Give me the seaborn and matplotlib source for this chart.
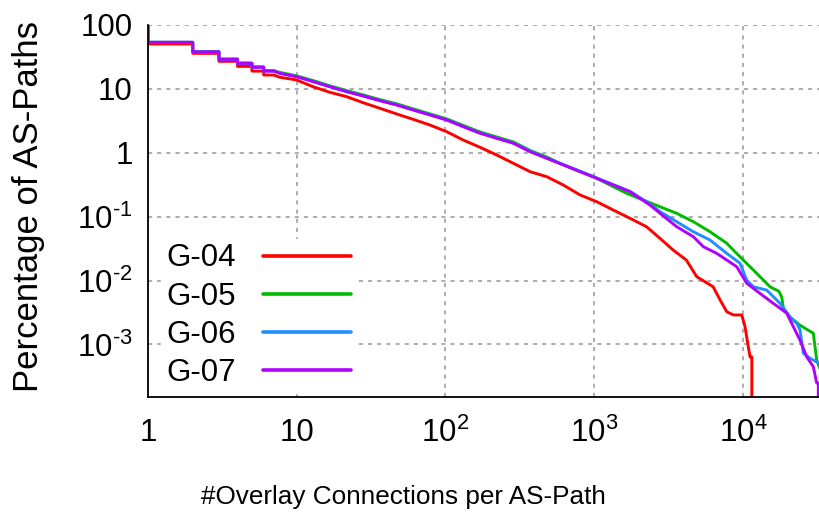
import numpy as np
import pandas as pd
import matplotlib
matplotlib.use("Agg")
import matplotlib.pyplot as plt
import seaborn as sns

# ---- data (CCDF, percent of AS-paths) ----
# the first few entries are explicit stair corners at integer connection counts
g04_x = [1, 1, 2, 2, 3, 3, 4, 4, 5, 5, 6, 6, 7, 7.72, 10.0, 12.9, 16.7, 21.7, 28.0, 36.3, 47.0,
         60.7, 78.7, 102, 132, 171, 221, 286, 371, 480, 621, 804, 1040, 1346, 1743, 2250,
         2773, 3400, 4170, 4900, 6320, 7030, 7800, 8650, 9840, 10350, 10890, 11190, 11500, 11500]
g04_y = [100, 50.5, 50.5, 36, 36, 27, 27, 22.5, 22.5, 19, 19, 16.5, 16.5, 15.2, 13.8, 10.8,
         8.85, 7.55, 6.08, 4.97, 4.05, 3.34, 2.72, 2.14, 1.58, 1.22, 0.925, 0.686, 0.506,
         0.423, 0.313, 0.219, 0.172, 0.127, 0.0944, 0.0697, 0.0459, 0.0301, 0.021, 0.0115,
         0.008, 0.005, 0.00326, 0.0029, 0.0029, 0.0019, 0.00092, 0.00064, 0.00064, 1e-7]

g05_x = [1, 1, 2, 2, 3, 3, 4, 4, 5, 5, 6, 6, 7, 7.72, 10.0, 12.9, 16.7, 21.7, 28.0, 36.3, 47.0,
         60.7, 78.7, 102, 132, 171, 221, 286, 371, 480, 590, 988, 1656, 2773, 3591, 4645,
         6017, 7798, 8630, 10070, 12390, 15240, 17500, 18280, 18750, 20750, 24250, 29800,
         31400, 33000]
g05_y = [100, 53.6, 53.6, 38.5, 38.5, 29.5, 29.5, 25.5, 25.5, 22.2, 22.2, 19.4, 19.4, 18.1,
         16.0, 13.5, 11.2, 9.4, 8.05, 6.8, 5.85, 4.87, 4.07, 3.4, 2.68, 2.12, 1.77, 1.48,
         1.09, 0.86, 0.685, 0.423, 0.232, 0.143, 0.113, 0.0836, 0.0582, 0.0384, 0.0301,
         0.021, 0.013, 0.008, 0.0068, 0.0055, 0.0037, 0.0027, 0.002, 0.0015, 0.00057, 0.00042]

g06_x = [1, 1, 2, 2, 3, 3, 4, 4, 5, 5, 6, 6, 7, 7.72, 10.0, 12.9, 16.7, 21.7, 28.0, 36.3, 47.0,
         60.7, 78.7, 102, 132, 171, 221, 286, 371, 480, 621, 804, 1040, 1346, 1743, 2377,
         2773, 3591, 4645, 6017, 7798, 9570, 10620, 11780, 14490, 17800, 20750, 23010, 24250,
         25530, 28300, 33000]
g06_y = [100, 53.6, 53.6, 38, 38, 29, 29, 25.1, 25.1, 21.8, 21.8, 19.0, 19.0, 17.6, 15.6,
         13.1, 10.9, 9.1, 7.8, 6.6, 5.65, 4.72, 3.95, 3.29, 2.59, 2.05, 1.71, 1.43, 1.06,
         0.83, 0.655, 0.515, 0.405, 0.318, 0.25, 0.158, 0.12, 0.0836, 0.0582, 0.0432, 0.0267,
         0.0187, 0.0102, 0.008, 0.0071, 0.0044, 0.0027, 0.00215, 0.0017, 0.00073, 0.00061,
         0.0005]

g07_x = [1, 1, 2, 2, 3, 3, 4, 4, 5, 5, 6, 6, 7, 7.72, 10.0, 12.9, 16.7, 21.7, 28.0, 36.3, 47.0,
         60.7, 78.7, 102, 132, 171, 221, 286, 371, 480, 621, 804, 1040, 1346, 1743, 2377,
         2773, 3591, 4645, 5420, 6668, 7798, 9100, 10620, 13050, 16040, 19720, 21870, 24250,
         26900, 29800, 31400, 32200, 32200]
g07_y = [100, 53.6, 53.6, 38, 38, 29, 29, 25.1, 25.1, 21.8, 21.8, 19.0, 19.0, 17.5, 15.5,
         13.0, 10.8, 9.04, 7.74, 6.53, 5.6, 4.67, 3.91, 3.26, 2.56, 2.02, 1.69, 1.41, 1.04,
         0.82, 0.644, 0.506, 0.399, 0.313, 0.246, 0.152, 0.113, 0.0698, 0.0487, 0.034,
         0.0267, 0.021, 0.0165, 0.0091, 0.0063, 0.0044, 0.0031, 0.0019, 0.00117, 0.00064,
         0.00045, 0.00025, 0.00025, 1e-7]

groups = ["G-04", "G-05", "G-06", "G-07"]
colors = ["#ff0000", "#00bb00", "#1e90ff", "#b000ff"]

x_ticks = [1, 10, 100, 1000, 10000]
x_tick_labels = ["1", "10", r"$10^{2}$", r"$10^{3}$", r"$10^{4}$"]
y_ticks = [100, 10, 1, 0.1, 0.01, 0.001]
y_tick_labels = ["100", "10", "1", r"$10^{\text{-}1}$", r"$10^{\text{-}2}$", r"$10^{\text{-}3}$"]

frames = []
for name, xs, ys in zip(groups, [g04_x, g05_x, g06_x, g07_x], [g04_y, g05_y, g06_y, g07_y]):
    frames.append(pd.DataFrame({"x": xs, "y": ys, "group": name}))
df = pd.concat(frames, ignore_index=True)

sns.set_theme(style="white")
plt.rcParams["font.family"] = ["Liberation Sans", "DejaVu Sans"]
plt.rcParams["mathtext.fontset"] = "custom"
plt.rcParams["mathtext.rm"] = "Liberation Sans"
plt.rcParams["mathtext.default"] = "regular"
plt.rcParams["text.color"] = "black"

fig = plt.figure(figsize=(8.19, 5.12), dpi=100)
W, H = 819, 512
left, right, top, bottom = 148, 819, 25, 397
ax = fig.add_axes([left / W, 1 - bottom / H, (right - left) / W, (bottom - top) / H])

sns.lineplot(data=df, x="x", y="y", hue="group", palette=colors, hue_order=groups,
             estimator=None, sort=False, linewidth=2.1, ax=ax, legend=True)

ax.set_xscale("log")
ax.set_yscale("log")
ax.set_xlim(1, 10 ** ((right - left) / 148.7))
ax.set_ylim(10 ** (2 - (bottom - top) / 63.9), 100)

ax.set_xticks(x_ticks)
ax.set_xticklabels(x_tick_labels)
ax.set_yticks(y_ticks)
ax.set_yticklabels(y_tick_labels)
ax.minorticks_off()
ax.tick_params(axis="x", which="major", direction="in", length=5, width=0.8,
               labelsize=22.5, pad=15, colors="#333333")
ax.tick_params(axis="y", which="major", direction="in", length=5, width=0.8,
               labelsize=22.5, pad=11, colors="#333333")
ax.tick_params(labelcolor="black")

ax.grid(True, which="major", color="#a0a0a0", linestyle=(0, (2.5, 3)), linewidth=1.2)
for s in ["top", "right"]:
    ax.spines[s].set_visible(False)
for s in ["left", "bottom"]:
    ax.spines[s].set_color("black")
    ax.spines[s].set_linewidth(1.3)

ax.set_xlabel("")
ax.set_ylabel("")
fig.text(403 / W, 1 - 497 / H, "#Overlay Connections per AS-Path", ha="center", va="center",
         fontsize=18.8, color="black")
fig.text(29 / W, 1 - 207 / H, "Percentage of AS-Paths", ha="center", va="center",
         rotation=90, fontsize=25, color="black")

handles, labels = ax.get_legend_handles_labels()
leg = ax.legend(handles, labels, loc="lower left", bbox_to_anchor=(0.02, 0.012),
                frameon=True, fancybox=False, markerfirst=False, fontsize=22.5,
                handlelength=2.8, handletextpad=0.88, labelspacing=0.26,
                borderpad=0.15, borderaxespad=0.0)
leg.get_frame().set_facecolor("white")
leg.get_frame().set_edgecolor("white")
leg.get_frame().set_alpha(1.0)
for text in leg.get_texts():
    text.set_color("black")
for line in leg.get_lines():
    line.set_linewidth(2.6)

fig.savefig("out.png", dpi=100)
